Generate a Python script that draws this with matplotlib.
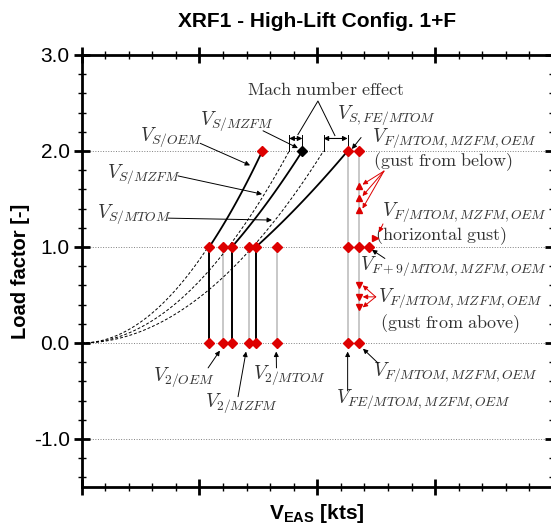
import numpy as np
import matplotlib.pyplot as plt
from matplotlib.ticker import MultipleLocator, FormatStrFormatter, NullFormatter

plt.rcParams['mathtext.fontset'] = 'cm'
plt.rcParams['font.family'] = 'Liberation Sans'
plt.rcParams['mathtext.bf'] = 'Liberation Sans:bold'

# speeds on an arbitrary EAS scale (the chart has no x tick labels)
# order: OEM, MZFM, MTOM
v_stall = [54.2, 63.8, 74.0]        # stall speed at n=1 (with Mach effect)
v_stall_incomp = [53.7, 62.3, 72.6]  # 1g stall curves without Mach effect
v_stall_n2 = [76.7, 93.7, 112.9]     # end of stall lines at n=2
v_2 = [60.1, 70.9, 82.8]
v_fe = 112.9
v_f = 117.7
v_f9 = 122.1

n_gust_below = [1.63, 1.51, 1.38]
n_gust_above = [0.60, 0.48, 0.37]
v_gust_hor = 124.6
n_gust_hor = 1.09

RED = '#dd0000'
GREY = '#c8c8c8'
TXT = '#333333'


def arrow(ax, tail, tip, color='black'):
    ax.annotate('', xy=tip, xytext=tail,
                arrowprops=dict(arrowstyle='-|>', color=color, lw=0.7,
                                mutation_scale=7, shrinkA=0, shrinkB=0))


def label(ax, s, x, y, fs=14):
    ax.text(x, y, s, color=TXT, fontsize=fs, ha='left', va='center')


def main():
    fig = plt.figure(figsize=(5.51, 5.31), dpi=100)
    ax = fig.add_axes([0.148, 0.083, 0.8555, 0.8135])

    for n in [-1, 0, 1, 2]:
        ax.axhline(n, color='grey', ls=':', lw=0.7, zorder=0)

    # incompressible stall curves (dashed)
    for k, vs in enumerate(v_stall_incomp):
        nmax = 1.0 if k == 0 else 2.0
        v = np.linspace(0, vs * np.sqrt(nmax), 100)
        ax.plot(v, (v / vs) ** 2, color='black', ls=(0, (3, 2)), lw=0.7, zorder=2)

    # stall lines from n=1 to n=2
    for vs, ve in zip(v_stall, v_stall_n2):
        p = np.log(2) / np.log(ve / vs)
        v = np.linspace(vs, ve, 50)
        ax.plot(v, (v / vs) ** p, color='black', lw=1.3, zorder=3)

    # vertical lines
    for vs in v_stall:
        ax.plot([vs, vs], [0, 1], color='black', lw=1.4, zorder=3)
    for v in v_2:
        ax.plot([v, v], [0, 1], color=GREY, lw=1.4, zorder=1)
    for v in [v_fe, v_f]:
        ax.plot([v, v], [0, 2], color=GREY, lw=1.4, zorder=1)

    # markers
    mk = dict(marker='D', color=RED, ms=5, ls='none', zorder=5)
    ax.plot(v_stall + v_2, [1] * 6, **mk)
    ax.plot(v_stall + v_2, [0] * 6, **mk)
    ax.plot([v_stall_n2[0], v_fe, v_f], [2, 2, 2], **mk)
    ax.plot([v_fe, v_f, v_f9], [1, 1, 1], **mk)
    ax.plot([v_fe, v_f], [0, 0], **mk)
    ax.plot([v_stall_n2[1]], [2], marker='D', color='black', ms=5, zorder=5)
    ax.plot([v_f] * 3, n_gust_below, marker='^', color=RED, ms=5, ls='none', zorder=5)
    ax.plot([v_f] * 3, n_gust_above, marker='v', color=RED, ms=5, ls='none', zorder=5)
    ax.plot([v_gust_hor], [n_gust_hor], marker='>', color=RED, ms=5, zorder=5)

    # Mach number effect brackets
    for a, b in [(v_stall_incomp[1] * np.sqrt(2), v_stall_n2[1]),
                 (v_stall_incomp[2] * np.sqrt(2), v_stall_n2[2])]:
        for v in (a, b):
            ax.plot([v, v], [2.0, 2.17], color='black', lw=0.7, zorder=3)
        ax.annotate('', xy=(b, 2.13), xytext=(a, 2.13),
                    arrowprops=dict(arrowstyle='<|-|>', color='black', lw=0.8,
                                    mutation_scale=7, shrinkA=0, shrinkB=0))
    ax.text(103.7, 2.63, r'$\mathrm{Mach\ number\ effect}$', color=TXT,
            fontsize=13, ha='center', va='center')
    ax.plot([91.8, 100.3, 107.5], [2.17, 2.52, 2.16], color='black', lw=0.7)

    # labels
    label(ax, r'$V_{S/MZFM}$', 50.3, 2.31)
    arrow(ax, (77.0, 2.21), (91.8, 2.03))
    label(ax, r'$V_{S/OEM}$', 24.8, 2.14)
    arrow(ax, (50.3, 2.08), (71.5, 1.85))
    label(ax, r'$V_{S/MZFM}$', 10.9, 1.76)
    arrow(ax, (40.9, 1.74), (76.6, 1.55))
    label(ax, r'$V_{S/MTOM}$', 6.6, 1.34)
    arrow(ax, (36.7, 1.30), (80.8, 1.28))
    label(ax, r'$V_{S,FE/MTOM}$', 108.4, 2.37)
    arrow(ax, (118.6, 2.14), (114.7, 2.02))

    label(ax, r'$V_{F/MTOM,MZFM,OEM}$', 123.2, 2.13)
    label(ax, r'$\mathrm{(gust\ from\ below)}$', 123.6, 1.89, fs=13)
    for n in n_gust_below:
        arrow(ax, (128.3, 1.79), (119.2, n + 0.02), color=RED)

    label(ax, r'$V_{F/MTOM,MZFM,OEM}$', 127.5, 1.36)
    label(ax, r'$\mathrm{(horizontal\ gust)}$', 124.5, 1.12, fs=13)
    arrow(ax, (127.9, 1.24), (126.2, 1.15), color=RED)

    label(ax, r'$V_{F+9/MTOM,MZFM,OEM}$', 118.1, 0.80)
    arrow(ax, (128.7, 0.88), (123.2, 0.97))

    label(ax, r'$V_{F/MTOM,MZFM,OEM}$', 125.8, 0.47)
    label(ax, r'$\mathrm{(gust\ from\ above)}$', 126.6, 0.20, fs=13)
    for n in n_gust_above:
        arrow(ax, (124.8, 0.48), (119.3, n), color=RED)

    label(ax, r'$V_{F/MTOM,MZFM,OEM}$', 123.6, -0.30)
    arrow(ax, (125.8, -0.21), (119.4, -0.06))
    label(ax, r'$V_{FE/MTOM,MZFM,OEM}$', 108.0, -0.59)
    arrow(ax, (112.9, -0.50), (112.9, -0.09))

    label(ax, r'$V_{2/OEM}$', 30.3, -0.36)
    arrow(ax, (53.7, -0.26), (58.7, -0.08))
    label(ax, r'$V_{2/MZFM}$', 52.4, -0.63)
    arrow(ax, (66.4, -0.56), (69.8, -0.09))
    label(ax, r'$V_{2/MTOM}$', 72.7, -0.34)
    arrow(ax, (82.7, -0.26), (82.6, -0.09))

    # axes styling
    ax.set_xlim(0, 200)
    ax.set_ylim(-1.5, 3.0)
    ax.xaxis.set_major_locator(MultipleLocator(50))
    ax.xaxis.set_minor_locator(MultipleLocator(10))
    ax.yaxis.set_major_locator(MultipleLocator(1.0))
    ax.yaxis.set_minor_locator(MultipleLocator(0.2))
    ax.xaxis.set_major_formatter(NullFormatter())
    ax.yaxis.set_major_formatter(FormatStrFormatter('%.1f'))
    ax.tick_params(which='both', direction='inout', top=True, right=True,
                   labelsize=15, pad=3)
    ax.tick_params(which='major', length=11, width=2)
    ax.tick_params(which='minor', length=6, width=1)
    for sp in ax.spines.values():
        sp.set_linewidth(2)

    ax.set_title('XRF1 - High-Lift Config. 1+F', fontsize=15, fontweight='bold', pad=20)
    ax.set_ylabel('Load factor [-]', fontsize=14.5, fontweight='bold', labelpad=3)
    ax.set_xlabel(r'V$_{\mathbf{EAS}}$ [kts]', fontsize=15, fontweight='bold',
                  labelpad=2, math_fontfamily='custom')

    fig.savefig('out.png', dpi=100)


if __name__ == "__main__":
    main()
